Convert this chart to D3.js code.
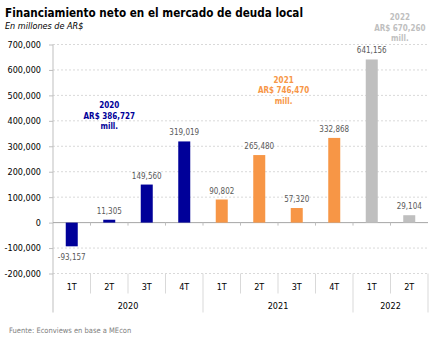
<!DOCTYPE html>
<html>
<head>
<meta charset="utf-8">
<script src="https://cdn.jsdelivr.net/npm/d3@7"></script>
<style>
  body { margin: 0; background: #fff; }
  svg text { font-family: "DejaVu Sans Condensed", "DejaVu Sans", sans-serif; font-stretch: condensed; }
</style>
</head>
<body>
<svg id="chart" width="443" height="340"></svg>
<script>
// data
const quarters = ["1T", "2T", "3T", "4T", "1T", "2T", "3T", "4T", "1T", "2T"];
const periodYears = ["2020", "2020", "2020", "2020", "2021", "2021", "2021", "2021", "2022", "2022"];
const values = [-93157, 11305, 149560, 319019, 90802, 265480, 57320, 332868, 641156, 29104];
const years = ["2020", "2021", "2022"];
const yearTotals = [386727, 746470, 670260];
const yTicks = [-200000, -100000, 0, 100000, 200000, 300000, 400000, 500000, 600000, 700000];

const yearColors = {"2020": "#000099", "2021": "#F79646", "2022": "#BFBFBF"};
const noteColors = {"2020": "#000099", "2021": "#F79646", "2022": "#BFBFBF"};

const svg = d3.select("#chart");
const margin = {left: 53, right: 15, top: 44.5, bottom: 66.5};
const width = 443 - margin.left - margin.right;
const height = 340 - margin.top - margin.bottom;
// plain hyphen for negatives, like the original
const fmt = d3.formatLocale({decimal: ".", thousands: ",", grouping: [3], currency: ["$", ""], minus: "-"}).format(",");

const data = values.map((v, i) => ({key: periodYears[i] + "-" + quarters[i], q: quarters[i], year: periodYears[i], value: v}));

const x = d3.scaleBand().domain(data.map(d => d.key)).range([0, width]);
const y = d3.scaleLinear().domain([-200000, 700000]).range([height, 0]);

// title
svg.append("text").attr("x", 5).attr("y", 17)
    .style("font-size", "12.5px").style("font-weight", "bold").attr("fill", "#000")
    .attr("textLength", 298).attr("lengthAdjust", "spacingAndGlyphs")
    .text("Financiamiento neto en el mercado de deuda local");
svg.append("text").attr("x", 5).attr("y", 29)
    .style("font-size", "9px").style("font-style", "italic").attr("fill", "#000")
    .text("En millones de AR$");

const g = svg.append("g").attr("transform", "translate(" + margin.left + "," + margin.top + ")");

// gridlines
g.selectAll(".grid").data(yTicks.filter(t => t !== 0)).enter().append("line")
    .attr("x1", 0).attr("x2", width)
    .attr("y1", d => y(d)).attr("y2", d => y(d))
    .attr("stroke", "#D9D9D9").attr("stroke-dasharray", "2,2").attr("stroke-width", 1);

// y axis
const yAxis = g.append("g")
    .call(d3.axisLeft(y).tickValues(yTicks).tickFormat(fmt).tickSize(4).tickPadding(8));
yAxis.select(".domain").remove();
yAxis.selectAll(".tick line").attr("stroke", "#BFBFBF");
yAxis.selectAll(".tick text").attr("fill", "#000").style("font-size", "9px");
g.append("line").attr("x1", 0).attr("x2", 0).attr("y1", 0).attr("y2", height + 39)
    .attr("stroke", "#BFBFBF");

// zero line with ticks
g.append("line").attr("x1", 0).attr("x2", width).attr("y1", y(0)).attr("y2", y(0))
    .attr("stroke", "#A6A6A6");
g.selectAll(".zt").data(data.slice(1)).enter().append("line")
    .attr("x1", d => x(d.key)).attr("x2", d => x(d.key))
    .attr("y1", y(0)).attr("y2", y(0) + 3)
    .attr("stroke", "#BFBFBF");

// bars
const barW = 12;
g.selectAll("rect").data(data).enter().append("rect")
    .attr("x", d => x(d.key) + x.bandwidth() / 2 - barW / 2)
    .attr("y", d => y(Math.max(0, d.value)))
    .attr("width", barW)
    .attr("height", d => Math.abs(y(d.value) - y(0)))
    .attr("fill", d => yearColors[d.year]);

// value labels
g.selectAll(".val").data(data).enter().append("text")
    .attr("x", d => x(d.key) + x.bandwidth() / 2)
    .attr("y", d => d.value >= 0 ? y(d.value) - 6 : y(d.value) + 14)
    .attr("text-anchor", "middle")
    .style("font-size", "8px").attr("fill", "#595959")
    .text(d => fmt(d.value));

// category axis: quarters and years
const base = height;
g.selectAll(".qlab").data(data).enter().append("text")
    .attr("x", d => x(d.key) + x.bandwidth() / 2)
    .attr("y", base + 16)
    .attr("text-anchor", "middle").style("font-size", "9px").attr("fill", "#000")
    .text(d => d.q);
g.selectAll(".qsep").data(data.slice(1)).enter().append("line")
    .attr("x1", d => x(d.key)).attr("x2", d => x(d.key))
    .attr("y1", base).attr("y2", d => d.q === "1T" ? base + 39 : base + 20)
    .attr("stroke", "#D9D9D9");
g.append("line").attr("x1", width).attr("x2", width).attr("y1", base).attr("y2", base + 39)
    .attr("stroke", "#D9D9D9");

years.forEach(yr => {
  const ks = data.filter(d => d.year === yr);
  const x0 = x(ks[0].key), x1 = x(ks[ks.length - 1].key) + x.bandwidth();
  g.append("text").attr("x", (x0 + x1) / 2).attr("y", base + 35)
      .attr("text-anchor", "middle").style("font-size", "9px").attr("fill", "#000")
      .text(yr);
});

// year total notes (position in band units and value units)
const notePos = {"2020": [1.5, 450000], "2021": [6.15, 550000], "2022": [9.25, 796000]};
years.forEach((yr, i) => {
  const [bx, vy] = notePos[yr];
  const t = g.append("text")
      .attr("x", bx * x.bandwidth()).attr("y", y(vy))
      .attr("text-anchor", "middle").style("font-size", "8px").style("font-weight", "bold")
      .attr("fill", noteColors[yr]);
  [yr, "AR$ " + fmt(yearTotals[i]), "mill."].forEach((s, j) => {
    t.append("tspan").attr("x", bx * x.bandwidth()).attr("dy", j === 0 ? 0 : 10.5).text(s);
  });
});

// source
svg.append("text").attr("x", 9).attr("y", 333)
    .style("font-size", "7.5px").attr("fill", "#808080")
    .text("Fuente: Econviews en base a MEcon");
</script>
</body>
</html>
